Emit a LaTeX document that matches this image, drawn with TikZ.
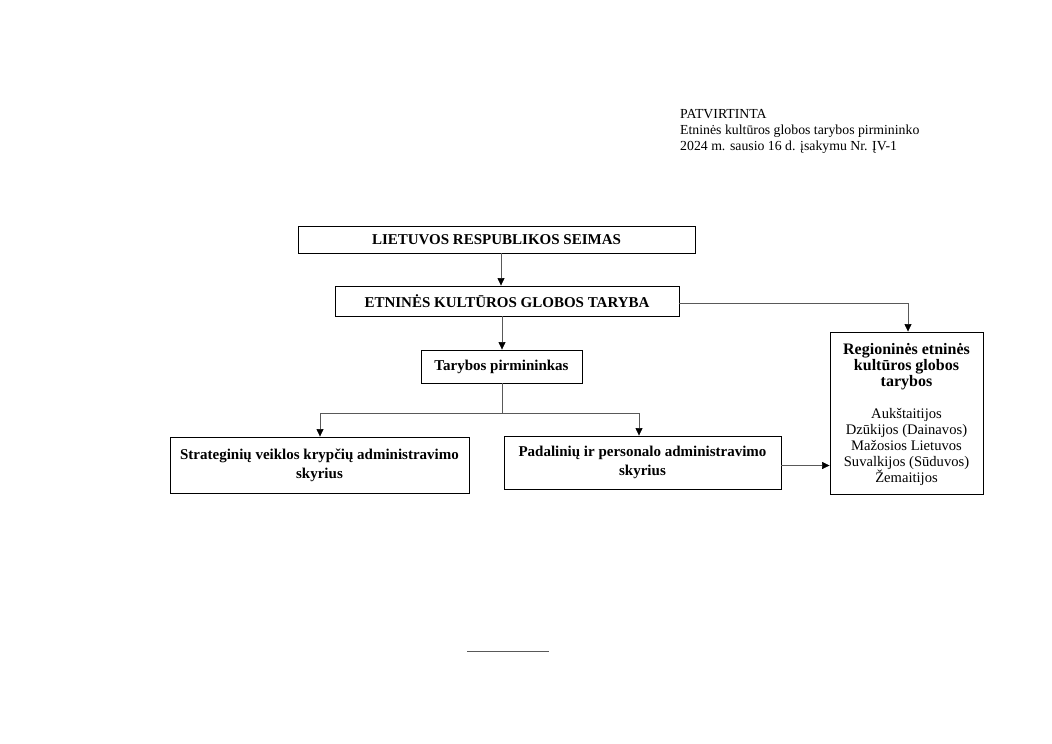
\documentclass[tikz,border=0pt]{standalone}
\usepackage{fontspec}
\setmainfont{Liberation Serif}
\usetikzlibrary{arrows.meta}
\tikzset{
  box/.style={draw, line width=0.9pt, inner sep=0pt, align=center, font=\fontsize{15}{19}\selectfont\bfseries},
  conn/.style={draw, line width=0.6pt, gray!70!black},
  arr/.style={conn, -{Triangle[length=7.5pt,width=7pt,black]}},
}
\begin{document}
\begin{tikzpicture}[x=1pt,y=-1pt]
\useasboundingbox (0,0) rectangle (1052,744);
% header
\node[anchor=north west, align=left, inner sep=0pt, font=\fontsize{13.8}{15.8}\selectfont] (hdr) at (680,109.5)
  {PATVIRTINTA\\Etninės kultūros globos tarybos pirmininko\\2024 m. sausio 16 d. įsakymu Nr. ĮV-1};
% boxes
\node[box, minimum width=397pt, minimum height=27pt] (seimas) at (496.5,239.5) {LIETUVOS RESPUBLIKOS SEIMAS};
\node[box, minimum width=344pt, minimum height=30pt] (taryba) at (507,301) {ETNINĖS KULTŪROS GLOBOS TARYBA};
\node[box, minimum width=161pt, minimum height=33pt] (pirm) at (501.5,366.5) {Tarybos pirmininkas};
\node[box, minimum width=299pt, minimum height=56pt] (strat) at (319.5,465) {Strateginių veiklos krypčių administravimo\\skyrius};
\node[box, minimum width=277pt, minimum height=53pt] (pad) at (642.5,462.5) {Padalinių ir personalo administravimo\\skyrius};
\node[box, minimum width=153pt, minimum height=162pt, font=\fontsize{14.6}{16}\selectfont] (reg) at (906.5,413)
  {\fontsize{16}{16}\selectfont\bfseries\rule{0pt}{15pt}Regioninės etninės\\\fontsize{16}{16}\selectfont\bfseries kultūros globos\\\fontsize{16}{16}\selectfont\bfseries tarybos\\[16pt]Aukštaitijos\\Dzūkijos (Dainavos)\\Mažosios Lietuvos\\Suvalkijos (Sūduvos)\\Žemaitijos};
% connectors
\draw[arr] (seimas.south -| 501,0) -- (taryba.north -| 501,0);
\draw[arr] (taryba.south -| 502,0) -- (pirm.north -| 502,0);
\coordinate (tr) at (908,303);
\draw[arr] (taryba.east |- tr) -- (tr) -- (reg.north -| tr);
\coordinate (split) at (502,413);
\coordinate (sl) at (320,413);
\coordinate (sr) at (639,413);
\draw[conn] (pirm.south -| split) -- (split);
\draw[conn] (sl) -- (sr);
\draw[arr] (sl) -- (strat.north -| sl);
\draw[arr] (sr) -- (pad.north -| sr);
\coordinate (pr) at (781,465.5);
\draw[arr] (pad.east |- pr) -- (reg.west |- pr);
% bottom rule
\coordinate (b1) at (467,651);
\coordinate (b2) at (549,651);
\draw[conn] (b1) -- (b2);
\end{tikzpicture}
\end{document}
